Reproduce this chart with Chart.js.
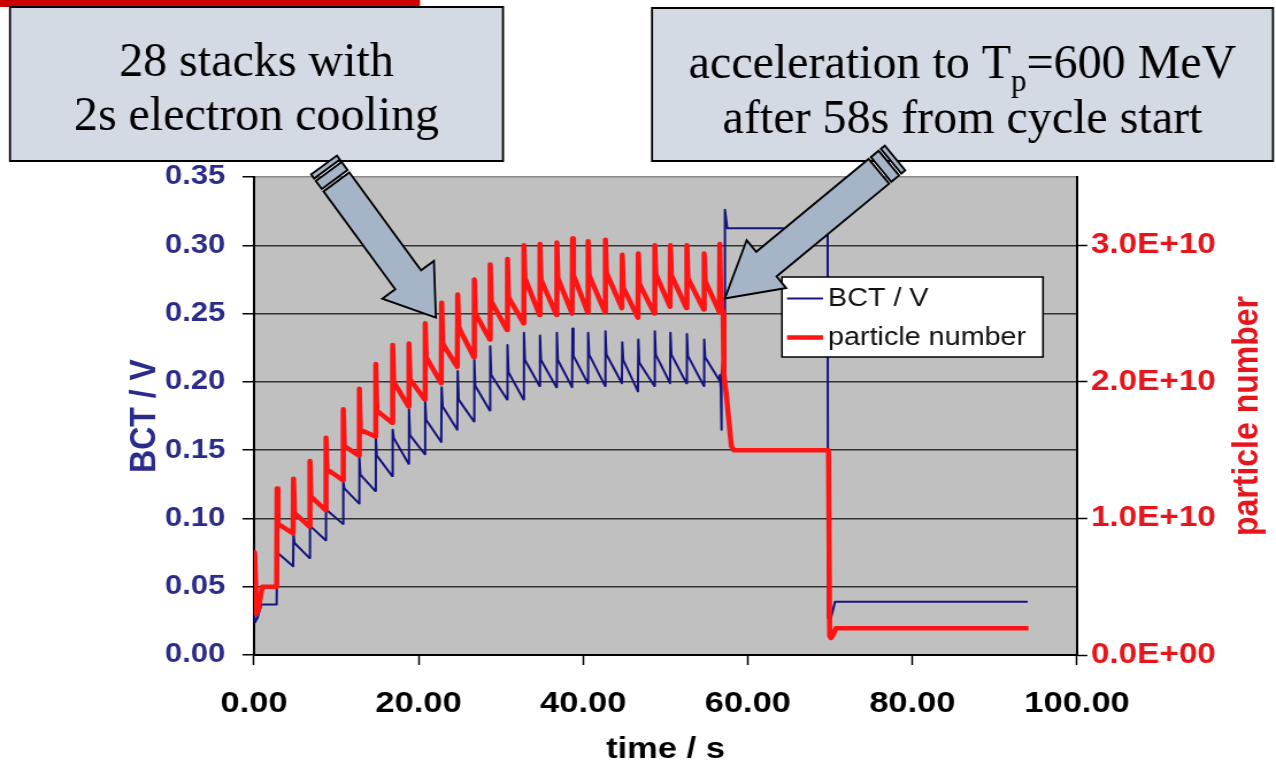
<!DOCTYPE html>
<html>
<head>
<meta charset="utf-8">
<title>BCT signal and particle number over the cycle</title>
<script src="https://cdn.jsdelivr.net/npm/chart.js@4.4.1/dist/chart.umd.min.js"></script>
<style>
  html, body { margin: 0; padding: 0; background: #fff; overflow: hidden; }
  #wrap { width: 1276px; height: 769px; overflow: hidden; }
  /* the original picture is widened by ~15 %, so the canvas is drawn narrow and stretched */
  #chart { display: block; transform: scaleX(1.14955); transform-origin: 0 0; }
</style>
</head>
<body>
<div id="wrap"><canvas id="chart" width="1110" height="769"></canvas></div>
<script>
const STRETCH = 1276 / 1110;
const FONT = '"Liberation Sans", Arial, sans-serif';
const SERIF = '"Liberation Serif", "Times New Roman", serif';
const BLUE_TEXT = '#2b2b8a';
const RED_TEXT = '#e8141c';

// injection time of each of the 28 stacks (s)
const stackTimes = [2.8, 4.8, 6.8, 8.75, 10.85, 12.8, 14.8, 16.85, 18.83, 20.8,
    22.8, 24.75, 26.77, 28.7, 30.8, 32.8, 34.75, 36.8, 38.7, 40.6,
    42.7, 44.75, 46.7, 48.7, 50.6, 52.6, 54.7, 56.6];

// particle number, in units of 1E+10
const particleHead = [[0.0, 0.45], [0.08, 0.75], [0.3, 0.30], [0.5, 0.33], [1.0, 0.50], [2.75, 0.50]];
const particlePeak = [1.22, 1.29, 1.42, 1.59, 1.80, 1.95, 2.13, 2.27, 2.28, 2.43,
    2.58, 2.64, 2.75, 2.86, 2.90, 3.00, 3.01, 3.02, 3.05, 3.03,
    3.04, 2.93, 2.94, 3.00, 3.00, 3.00, 2.94, 3.01];
const particleAfter = [0.96, 1.04, 1.16, 1.36, 1.53, 1.65, 1.79, 2.00, 2.02, 2.18,
    2.28, 2.40, 2.50, 2.59, 2.62, 2.76, 2.75, 2.76, 2.78, 2.78,
    2.80, 2.69, 2.72, 2.79, 2.78, 2.76, 2.74, 2.60];
const particleBefore = [0.89, 0.94, 1.06, 1.28, 1.46, 1.60, 1.70, 1.82, 1.87, 1.99,
    2.11, 2.18, 2.31, 2.38, 2.43, 2.49, 2.49, 2.50, 2.51, 2.51,
    2.54, 2.47, 2.50, 2.55, 2.54, 2.53, 2.51];
const particleTail = [[56.8, 2.55], [57.0, 2.50], [57.1, 2.05], [57.4, 1.90], [58.0, 1.53],
    [58.3, 1.50], [69.8, 1.50], [69.95, 0.14], [70.1, 0.125], [70.3, 0.14], [70.7, 0.195], [94.1, 0.195]];

// BCT signal (V)
const bctHead = [[0.0, 0.030], [0.15, 0.024], [0.4, 0.027], [0.9, 0.037], [2.75, 0.037]];
const bctPeak = [0.075, 0.088, 0.094, 0.105, 0.127, 0.145, 0.160, 0.165, 0.180, 0.186,
    0.196, 0.208, 0.216, 0.226, 0.227, 0.236, 0.234, 0.236, 0.239, 0.236,
    0.237, 0.229, 0.231, 0.237, 0.236, 0.235, 0.231, 0.205];
const bctAfter = [0.0745, 0.082, 0.094, 0.106, 0.122, 0.132, 0.146, 0.159, 0.161, 0.172,
    0.182, 0.187, 0.197, 0.205, 0.207, 0.216, 0.216, 0.216, 0.219, 0.220,
    0.220, 0.216, 0.214, 0.220, 0.220, 0.219, 0.218, 0.195];
const bctBefore = [0.065, 0.071, 0.084, 0.096, 0.111, 0.120, 0.131, 0.140, 0.147, 0.156,
    0.165, 0.171, 0.179, 0.187, 0.187, 0.197, 0.196, 0.196, 0.199, 0.197,
    0.199, 0.193, 0.197, 0.199, 0.199, 0.197, 0.201];
const bctTail = [[56.78, 0.165], [56.84, 0.205], [57.15, 0.225], [57.22, 0.326], [57.5, 0.3125],
    [69.7, 0.3125], [69.75, 0.027], [70.05, 0.026], [70.6, 0.039], [94.0, 0.039]];

// axis ticks
const timeTicks = [0, 20, 40, 60, 80, 100];
const bctTicks = [0, 0.05, 0.10, 0.15, 0.20, 0.25, 0.30, 0.35];
const particleTicks = [0, 1, 2, 3];

// one point list per trace: spike, fall after the stack, decay while cooling
function buildSeries(head, peak, after, before, tail) {
    const pts = head.map(([x, y]) => ({x, y}));
    stackTimes.forEach((t, i) => {
        if (i > 0) pts.push({x: t - 0.05, y: before[i - 1]});
        pts.push({x: t, y: peak[i]});
        pts.push({x: t + 0.12, y: after[i]});
    });
    tail.forEach(([x, y]) => pts.push({x, y}));
    return pts;
}

const callouts = [
    {box: [10, 7, 493, 154], baselines: [76, 130],
        lines: [[{text: '28 stacks with'}], [{text: '2s electron cooling'}]]},
    {box: [652, 8, 621, 153], baselines: [78, 133],
        lines: [[{text: 'acceleration to T'}, {text: 'p', sub: true}, {text: '=600 MeV'}],
                [{text: 'after 58s from cycle start'}]]}
];
// tip is in data units (time, BCT), tail in page pixels
const arrows = [
    {tip: [22.1, 0.247], tail: [324, 165], shaft: 32, head: 64, headLen: 47},
    {tip: [57.2, 0.261], tail: [895, 158], shaft: 32, head: 62, headLen: 54}
];

function drawArrow(ctx, tip, tail, a) {
    const dx = tip.x - tail[0], dy = tip.y - tail[1];
    const len = Math.hypot(dx, dy);
    const ux = dx / len, uy = dy / len;
    const nx = -uy, ny = ux;
    const at = (s, w) => [tip.x - ux * s + nx * w, tip.y - uy * s + ny * w];
    const poly = pts => {
        ctx.beginPath();
        pts.forEach(([x, y], i) => i ? ctx.lineTo(x, y) : ctx.moveTo(x, y));
        ctx.closePath();
        ctx.fill();
        ctx.stroke();
    };
    const hs = a.shaft / 2, hh = a.head / 2;
    poly([at(0, 0), at(a.headLen, hh), at(a.headLen, hs), at(len - 21, hs),
          at(len - 21, -hs), at(a.headLen, -hs), at(a.headLen, -hh)]);
    poly([at(len - 18, hs), at(len - 8, hs), at(len - 8, -hs), at(len - 18, -hs)]);
    poly([at(len - 5, hs), at(len, hs), at(len, -hs), at(len - 5, -hs)]);
}

const plotBackground = {
    id: 'plotBackground',
    beforeDraw(chart) {
        const {ctx, chartArea: a} = chart;
        ctx.save();
        ctx.fillStyle = '#c0c0c0';
        ctx.fillRect(a.left, a.top, a.right - a.left, a.bottom - a.top);
        ctx.restore();
    }
};

const insideLegend = {
    id: 'insideLegend',
    afterDatasetsDraw(chart) {
        const ctx = chart.ctx;
        const x0 = 782 / STRETCH, x1 = 1043 / STRETCH;
        ctx.save();
        ctx.fillStyle = '#fff';
        ctx.fillRect(x0, 277, x1 - x0, 80);
        ctx.strokeStyle = '#000';
        ctx.lineWidth = 1.5;
        ctx.strokeRect(x0, 277, x1 - x0, 80);
        chart.data.datasets.forEach((ds, i) => {
            const y = 298.5 + i * 39;
            ctx.strokeStyle = ds.borderColor;
            ctx.lineWidth = ds.borderWidth;
            ctx.beginPath();
            ctx.moveTo(787 / STRETCH, y);
            ctx.lineTo(823 / STRETCH, y);
            ctx.stroke();
            ctx.fillStyle = '#111';
            ctx.font = '25px ' + FONT;
            ctx.textBaseline = 'middle';
            ctx.fillText(ds.label, 828 / STRETCH, y + 1);
        });
        ctx.restore();
    }
};

const overlay = {
    id: 'overlay',
    afterDraw(chart) {
        const ctx = chart.ctx;
        const sx = chart.scales.x, sy = chart.scales.y;
        const a = chart.chartArea;

        // secondary axis title, reading upwards
        ctx.save();
        ctx.translate(1247 / STRETCH, (a.top + a.bottom) / 2);
        ctx.rotate(-Math.PI / 2);
        ctx.font = 'bold 32px ' + FONT;
        ctx.fillStyle = RED_TEXT;
        ctx.textAlign = 'center';
        ctx.textBaseline = 'middle';
        ctx.fillText('particle number', 0, 0);
        ctx.restore();

        // slide decorations, in undistorted page pixels
        ctx.save();
        ctx.scale(1 / STRETCH, 1);
        ctx.fillStyle = '#cc0000';
        ctx.fillRect(0, 0, 420, 7);

        callouts.forEach(c => {
            const [x, y, w, h] = c.box;
            ctx.fillStyle = '#d3dae3';
            ctx.fillRect(x, y, w, h);
            ctx.strokeStyle = '#000';
            ctx.lineWidth = 2;
            ctx.strokeRect(x, y, w, h);
            ctx.fillStyle = '#000';
            ctx.textAlign = 'left';
            ctx.textBaseline = 'alphabetic';
            c.lines.forEach((parts, i) => {
                const widths = parts.map(p => {
                    ctx.font = (p.sub ? 31 : 48) + 'px ' + SERIF;
                    return ctx.measureText(p.text).width;
                });
                let cx = x + w / 2 - widths.reduce((s, v) => s + v, 0) / 2;
                parts.forEach((p, j) => {
                    ctx.font = (p.sub ? 31 : 48) + 'px ' + SERIF;
                    ctx.fillText(p.text, cx, c.baselines[i] + (p.sub ? 13 : 0));
                    cx += widths[j];
                });
            });
        });

        ctx.fillStyle = '#a5b4c6';
        ctx.strokeStyle = '#000';
        ctx.lineWidth = 2;
        ctx.lineJoin = 'miter';
        arrows.forEach(ar => {
            const tip = {x: sx.getPixelForValue(ar.tip[0]) * STRETCH, y: sy.getPixelForValue(ar.tip[1])};
            drawArrow(ctx, tip, ar.tail, ar);
        });
        ctx.restore();
    }
};

new Chart(document.getElementById('chart'), {
    type: 'scatter',
    data: {
        datasets: [{
            label: 'BCT / V',
            data: buildSeries(bctHead, bctPeak, bctAfter, bctBefore, bctTail),
            yAxisID: 'y',
            showLine: true,
            borderColor: '#14147e',
            borderWidth: 2,
            borderJoinStyle: 'round',
            pointRadius: 0,
            order: 1
        }, {
            label: 'particle number',
            data: buildSeries(particleHead, particlePeak, particleAfter, particleBefore, particleTail),
            yAxisID: 'y2',
            showLine: true,
            borderColor: '#ff1414',
            borderWidth: 4.5,
            borderJoinStyle: 'round',
            pointRadius: 0,
            order: 0
        }]
    },
    options: {
        responsive: false,
        animation: false,
        events: [],
        layout: { padding: { top: 177, left: 0, right: 0, bottom: 0 } },
        plugins: {
            legend: { display: false },
            tooltip: { enabled: false }
        },
        scales: {
            x: {
                type: 'linear',
                min: 0,
                max: 100,
                afterBuildTicks: s => { s.ticks = timeTicks.map(v => ({value: v})); },
                afterFit: s => { s.height = 114; },
                ticks: {
                    callback: v => v.toFixed(2),
                    color: '#000',
                    font: { family: FONT, size: 30, weight: 'bold' },
                    padding: 21,
                    maxRotation: 0,
                    autoSkip: false
                },
                grid: { drawOnChartArea: false, tickLength: 10, tickColor: '#000', tickWidth: 1.5 },
                border: { color: '#000', width: 2 },
                title: {
                    display: true,
                    text: 'time / s',
                    color: '#000',
                    font: { family: FONT, size: 30, weight: 'bold' },
                    padding: { top: 0, bottom: 1 }
                }
            },
            y: {
                type: 'linear',
                position: 'left',
                min: 0,
                max: 0.35,
                afterBuildTicks: s => { s.ticks = bctTicks.map(v => ({value: v})); },
                afterFit: s => { s.width = 254 / STRETCH; },
                ticks: {
                    callback: v => v.toFixed(2),
                    color: BLUE_TEXT,
                    font: { family: FONT, size: 27, weight: 'bold' },
                    padding: 15
                },
                grid: {
                    color: c => c.tick.value === 0 ? 'rgba(0,0,0,0)' : (c.tick.value > 0.34 ? '#8a8a8a' : '#333'),
                    lineWidth: 1.5,
                    tickLength: 10,
                    tickColor: '#000',
                    tickWidth: 1.5
                },
                border: { color: '#000', width: 2 },
                title: {
                    display: true,
                    text: 'BCT / V',
                    color: BLUE_TEXT,
                    font: { family: FONT, size: 32, weight: 'bold' },
                    padding: { top: 107, bottom: 0 }
                }
            },
            y2: {
                type: 'linear',
                position: 'right',
                min: 0,
                max: 3.5,
                afterBuildTicks: s => { s.ticks = particleTicks.map(v => ({value: v})); },
                afterFit: s => { s.width = 1110 - 1077 / STRETCH; },
                ticks: {
                    callback: v => v.toFixed(1) + (v === 0 ? 'E+00' : 'E+10'),
                    color: RED_TEXT,
                    font: { family: FONT, size: 29, weight: 'bold' },
                    padding: 3
                },
                grid: { drawOnChartArea: false, tickLength: 9, tickColor: '#000', tickWidth: 1.5 },
                border: { color: '#000', width: 2 }
            }
        }
    },
    plugins: [plotBackground, insideLegend, overlay]
});
</script>
</body>
</html>
